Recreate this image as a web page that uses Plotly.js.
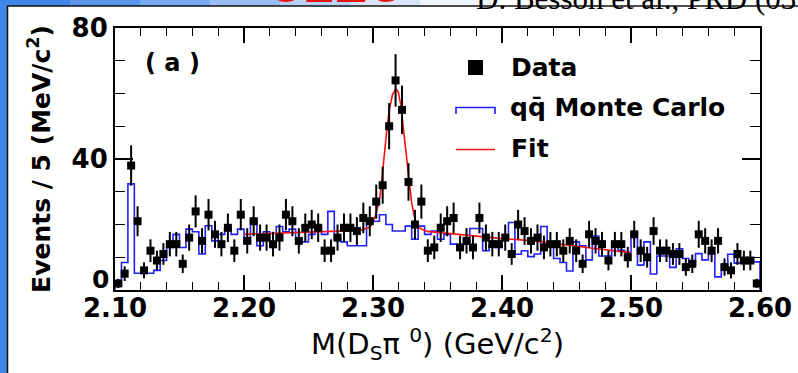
<!DOCTYPE html>
<html><head><meta charset="utf-8">
<script src="https://cdn.plot.ly/plotly-3.0.1.min.js"></script>
<style>html,body{margin:0;padding:0;background:#fff;} #chart{width:798px;height:373px;}</style>
</head><body><div id="chart"></div>
<script>
// ---- data ----
const binStart = 2.10;   // GeV/c^2
const binWidth = 0.005;  // 5 MeV bins
const dataCounts = [
  2, 5, 38, 21, 6, 12, 9, 11, 14, 14,
  8, 16, 24, 15, 23, 17, 14, 19, 12, 23,
  15, 21, 16, 16, 14, 16, 23, 21, 15, 19,
  20, 19, 12, 12, 16, 19, 19, 18, 22, 21,
  27, 32, 50, 64, 55, 33, 20, 27, 12, 13,
  19, 21, 22, 13, 15, 13, 22, 16, 14, 14,
  16, 11, 20, 18, 15, 16, 13, 14, 14, 12,
  15, 12, 8, 17, 15, 14, 9, 14, 14, 10,
  17, 12, 10, 18, 12, 12, 11, 11, 7, 8,
  17, 15, 12, 15, 7, 6, 11, 9, 9, 2
];
const mcCounts = [
  1.2, 8.4, 32.4, 5.1, 5.1, 5.1, 6, 9, 13, 17,
  13, 18.6, 17.8, 11, 19.6, 15, 17, 18.6, 17, 18.6,
  14.3, 21.6, 13.5, 17.8, 13, 19.4, 17.8, 18.6, 15.5, 14.7,
  17, 19.4, 17, 24, 15.5, 14.7, 13.5, 13.5, 13.5, 20.6,
  21, 23, 20, 18, 18, 19.5, 15.5, 19.5, 17, 18,
  15.5, 17, 14, 12.5, 14, 18.8, 18.8, 12, 13.7, 13,
  15.5, 20.6, 10.9, 12, 10.2, 11, 19.4, 13.7, 9.6, 8.4,
  5.8, 14.7, 13.5, 9.2, 16.5, 10.4, 10.4, 13.5, 12.1, 11.4,
  17.8, 7.6, 14.7, 4.9, 10.4, 10.4, 6.9, 12.6, 9.6, 7.6,
  11.1, 9.2, 11.1, 4, 7.6, 10.9, 8.2, 9.4, 9.4, 8.6
];
const fitMass = [2.200, 2.230, 2.260, 2.280, 2.290, 2.2977, 2.3016, 2.3035, 2.3054, 2.3067,
  2.3080, 2.3101, 2.3124, 2.3150, 2.3176, 2.3196, 2.3215, 2.3233, 2.3254, 2.3274,
  2.3300, 2.3326, 2.3364, 2.342, 2.350, 2.370, 2.400, 2.425, 2.450, 2.475, 2.500];
const fitValues = [17.0, 17.4, 17.7, 17.9, 18.2, 19.2, 22.3, 25.0, 28.5, 33.0,
  38.5, 46.5, 54.5, 59.5, 61.4, 60.5, 56.5, 50.0, 42.0, 34.0,
  26.5, 21.5, 18.8, 17.9, 17.6, 17.0, 15.7, 15.0, 13.7, 12.5, 11.4];
const xTickVals = [2.10, 2.20, 2.30, 2.40, 2.50, 2.60];
const xTickText = ["2.10", "2.20", "2.30", "2.40", "2.50", "2.60"];
const yTickVals = [0, 40, 80];
const yTickText = ["0", "40", "80"];
const legendLabels = ["Data", "q\u0071\u0304 Monte Carlo", "Fit"];

// ---- derived arrays for the library ----
const nBins = dataCounts.length;
const binCenters = dataCounts.map((_, i) => binStart + (i + 0.5) * binWidth);
const dataErr = dataCounts.map(v => Math.sqrt(v));
const mcX = [binStart];
const mcY = [0];
mcCounts.forEach((v, i) => { mcX.push(binStart + i * binWidth); mcY.push(v); });
mcX.push(binStart + nBins * binWidth); mcY.push(mcCounts[nBins - 1]);
mcX.push(binStart + nBins * binWidth); mcY.push(0);

// ---- geometry helpers (pixel -> paper) ----
const W = 798, H = 373;
const L = 115, R = 760, T = 28, B = 290;
const px = x => (x - L) / (R - L);
const py = y => (B - y) / (B - T);

const BOLD = "DejaVu Sans";

const traces = [
  { type: "scatter", mode: "lines", x: mcX, y: mcY,
    line: { shape: "hv", color: "#1f1fff", width: 1.6 }, hoverinfo: "skip", showlegend: false },
  { type: "scatter", mode: "lines", x: fitMass, y: fitValues,
    line: { color: "#ff1010", width: 1.6 }, showlegend: false },
  { type: "scatter", mode: "markers", x: binCenters, y: dataCounts,
    marker: { symbol: "square", size: 8, color: "black" },
    error_y: { type: "data", array: dataErr, visible: true, color: "black", thickness: 2, width: 0 },
    showlegend: false }
];

const shapes = [
  // outer frame decoration
  { type: "rect", xref: "paper", yref: "paper", x0: px(0), x1: px(7), y0: py(H), y1: py(0),
    fillcolor: "#3f86e6", line: { width: 0 }, layer: "below" },
  { type: "line", xref: "paper", yref: "paper", x0: px(7.5), x1: px(7.5), y0: py(H), y1: py(6),
    line: { color: "#111", width: 1.5 } },
  { type: "line", xref: "paper", yref: "paper", x0: px(7), x1: px(W), y0: py(6), y1: py(6),
    line: { color: "#111", width: 1.5 } },
  // legend symbols
  { type: "rect", xref: "paper", yref: "paper", x0: px(468), x1: px(483), y0: py(75), y1: py(60),
    fillcolor: "black", line: { width: 0 } },
  { type: "path", xref: "paper", yref: "paper",
    path: `M${px(456)},${py(114)} L${px(456)},${py(107.5)} L${px(495)},${py(107.5)} L${px(495)},${py(114)}`,
    line: { color: "#1f1fff", width: 1.6 } },
  { type: "line", xref: "paper", yref: "paper", x0: px(456), x1: px(495), y0: py(149.5), y1: py(149.5),
    line: { color: "#ff1010", width: 1.6 } }
];
// top gradient strip
const stripCols = ["#3f86e6", "#5a97ea", "#78aaee", "#98bff2", "#b8d3f6", "#d6e6fa", "#eef5fd"];
stripCols.forEach((c, i) => {
  shapes.push({ type: "rect", xref: "paper", yref: "paper",
    x0: px(i * 70), x1: px((i + 1) * 70 + 1), y0: py(6), y1: py(0),
    fillcolor: c, line: { width: 0 }, layer: "below" });
});

const annotations = [
  { text: "( a )", xref: "paper", yref: "paper", x: px(143), y: py(63), xanchor: "left", yanchor: "middle",
    showarrow: false, font: { family: BOLD, size: 24, weight: "bold", color: "black" } },
  { text: legendLabels[0], xref: "paper", yref: "paper", x: px(509), y: py(67), xanchor: "left", yanchor: "middle",
    showarrow: false, font: { family: BOLD, size: 25, weight: "bold", color: "black" } },
  { text: legendLabels[1], xref: "paper", yref: "paper", x: px(508), y: py(107), xanchor: "left", yanchor: "middle",
    showarrow: false, font: { family: BOLD, size: 25, weight: "bold", color: "black" } },
  { text: legendLabels[2], xref: "paper", yref: "paper", x: px(509), y: py(148), xanchor: "left", yanchor: "middle",
    showarrow: false, font: { family: BOLD, size: 25, weight: "bold", color: "black" } },
  // y tick label "0" raised above the x labels, as in the reference
  { text: yTickText[0], xref: "paper", yref: "paper", x: px(111), y: py(279), xanchor: "right", yanchor: "middle",
    showarrow: false, font: { family: BOLD, size: 25, weight: "bold", color: "black" } },
  { text: "CLEO", xref: "paper", yref: "paper", x: px(336), y: py(5), xanchor: "center", yanchor: "bottom",
    yshift: -10, showarrow: false, font: { family: "Liberation Sans", size: 50, weight: "bold", color: "#ee1111" } },
  { text: "D. Besson et al., PRD (03", xref: "paper", yref: "paper", x: px(474), y: py(9), xanchor: "left", yanchor: "bottom",
    yshift: -9, showarrow: false, font: { family: "Liberation Serif", size: 31, color: "black" } }
];

const layout = {
  width: W, height: H,
  margin: { l: L, r: W - R, t: T, b: H - B, pad: 0 },
  paper_bgcolor: "white", plot_bgcolor: "white",
  showlegend: false,
  xaxis: {
    range: [2.10, 2.60], tickvals: xTickVals, ticktext: xTickText,
    ticks: "inside", ticklen: 15, tickwidth: 1.5, tickcolor: "black",
    ticklabelstandoff: -6,
    minor: { dtick: 0.02, tick0: 2.10, ticks: "inside", ticklen: 8, tickwidth: 1.2, tickcolor: "black", showgrid: false },
    showline: true, linecolor: "black", linewidth: 2, mirror: "ticks",
    showgrid: false, zeroline: false, automargin: false,
    tickfont: { family: BOLD, size: 26, weight: "bold", color: "black" },
    title: { text: "M(D<sub>S</sub>\u03c0 <sup>0</sup>) (GeV/c<sup>2</sup>)", standoff: 4,
      font: { family: "DejaVu Sans", size: 29, color: "black" } }
  },
  yaxis: {
    range: [0, 80], tickvals: yTickVals, ticktext: ["", yTickText[1], yTickText[2]],
    ticks: "inside", ticklen: 18, tickwidth: 1.5, tickcolor: "black",
    minor: { dtick: 10, tick0: 0, ticks: "inside", ticklen: 10, tickwidth: 1.2, tickcolor: "black", showgrid: false },
    showline: true, linecolor: "black", linewidth: 2, mirror: "ticks",
    showgrid: false, zeroline: false, automargin: false,
    tickfont: { family: BOLD, size: 26, weight: "bold", color: "black" },
    title: { text: "Events / 5 (MeV/c<sup>2</sup>)", standoff: 14,
      font: { family: BOLD, size: 25, weight: "bold", color: "black" } }
  },
  shapes: shapes,
  annotations: annotations
};

Plotly.newPlot("chart", traces, layout, { staticPlot: true, displayModeBar: false });
</script>
</body></html>
